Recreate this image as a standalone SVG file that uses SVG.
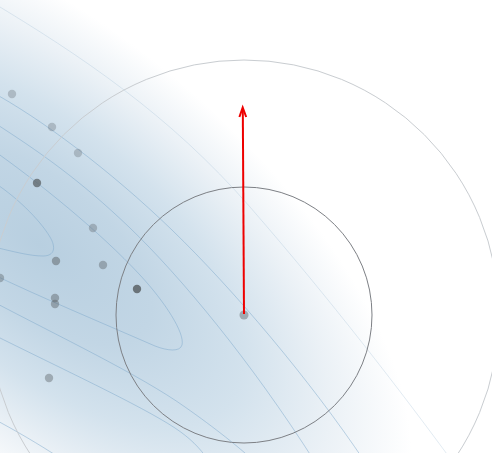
<svg xmlns="http://www.w3.org/2000/svg" width="492" height="453" viewBox="0 0 492 453">
<defs>
<radialGradient id="bg" gradientUnits="userSpaceOnUse" cx="0" cy="0" r="1" gradientTransform="translate(40,245) rotate(40) scale(450,215)">
<stop offset="0" stop-color="#b8cfe0"/>
<stop offset="0.3" stop-color="#c2d6e5"/>
<stop offset="0.55" stop-color="#d3e2ed"/>
<stop offset="0.78" stop-color="#ebf1f6"/>
<stop offset="1" stop-color="#ffffff"/>
</radialGradient>
<style>
.ct{fill:none;stroke:#7faacb;stroke-width:1;stroke-opacity:0.5}
.ctf{fill:none;stroke:#9fbdd4;stroke-width:1;stroke-opacity:0.3}
.pt{fill:#5b6166}
.ring{fill:none;stroke-width:1}
</style>
</defs>
<rect id="background" x="0" y="0" width="492" height="453" fill="url(#bg)"/>
<g id="contours">
<path class="ct" d="M -10,180 C 15,195 40,220 50,237 C 56,247 55,256 43,256 C 30,256 15,252 -10,246"/>
<path class="ct" d="M -10,148 C 40,183 100,232 140,275 C 165,302 185,333 182,345 C 180,352 168,351 155,346 C 100,322 40,297 -10,273"/>
<path class="ct" d="M -10,120 C 40,152 80,180 130,228 S 250,360 315,462"/>
<path class="ct" d="M -10,300 C 60,337 140,375 185,407 C 215,428 240,448 255,462"/>
<path class="ct" d="M -10,91 C 40,118 110,170 172,230 S 310,380 365,462"/>
<path class="ct" d="M -10,333 C 60,368 140,405 175,428 C 190,438 200,448 208,460"/>
<path class="ctf" d="M -10,1 C 80,55 170,115 250,207 S 400,390 455,465"/>
<path class="ct" d="M -10,417 C 15,430 40,445 60,458"/>
</g>
<g id="outer-circle"><circle class="ring" cx="244" cy="315" r="255" stroke="#c9cdd1"/></g>
<g id="inner-circle"><circle class="ring" cx="244" cy="315" r="128" stroke="#7d8085"/></g>
<g id="points">
<circle class="pt" cx="12" cy="94" r="4.2" fill-opacity="0.3"/>
<circle class="pt" cx="52" cy="127" r="4.2" fill-opacity="0.3"/>
<circle class="pt" cx="78" cy="153" r="4.2" fill-opacity="0.3"/>
<circle class="pt" cx="37" cy="183" r="4.2" fill-opacity="0.75"/>
<circle class="pt" cx="93" cy="228" r="4.2" fill-opacity="0.35"/>
<circle class="pt" cx="56" cy="261" r="4.2" fill-opacity="0.5"/>
<circle class="pt" cx="103" cy="265" r="4.2" fill-opacity="0.42"/>
<circle class="pt" cx="0" cy="278" r="4.2" fill-opacity="0.4"/>
<circle class="pt" cx="55" cy="298" r="4.2" fill-opacity="0.45"/>
<circle class="pt" cx="55" cy="304" r="4.2" fill-opacity="0.45"/>
<circle class="pt" cx="137" cy="289" r="4.2" fill-opacity="0.85"/>
<circle class="pt" cx="49" cy="378" r="4.2" fill-opacity="0.42"/>
</g>
<g id="center"><circle class="pt" cx="244" cy="315" r="4.5" fill-opacity="0.45"/></g>
<g id="connectors">
<line x1="244" y1="314" x2="242.8" y2="109" stroke="#ee0000" stroke-width="2"/>
<polyline points="239.4,117 242.7,107.5 246.2,117" fill="none" stroke="#ee0000" stroke-width="2" stroke-linejoin="miter"/>
</g>
</svg>
